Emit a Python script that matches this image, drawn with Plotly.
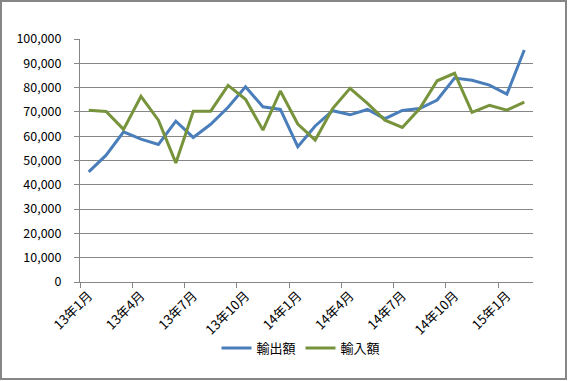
import plotly.graph_objects as go

months = [f"13年{m}月" for m in range(1, 13)] + [f"14年{m}月" for m in range(1, 13)] + ["15年1月", "15年2月"]
exports = [45300, 52200, 61800, 58800, 56600, 66200, 59500, 64900, 71900, 80300, 72100, 71000,
           55700, 64200, 70500, 68800, 71000, 67200, 70600, 71400, 74900, 83900, 83000, 81000, 77300, 95500]
imports = [70700, 70200, 62800, 76400, 66600, 49000, 70300, 70300, 80900, 75200, 62500, 78600,
           65000, 58400, 71400, 79700, 73500, 66600, 63600, 71400, 82800, 85900, 69800, 72700, 70700, 74000]
y_ticks = [0, 10000, 20000, 30000, 40000, 50000, 60000, 70000, 80000, 90000, 100000]

W, H = 568, 381
L, R, T, B = 80, 35, 39, 99
pw, ph = W - L - R, H - T - B

FONT = "Noto Sans CJK JP, Noto Sans, sans-serif"

fig = go.Figure()
fig.add_trace(go.Scatter(x=months, y=exports, name="輸出額", mode="lines",
                         line=dict(color="#4A7EBB", width=3)))
fig.add_trace(go.Scatter(x=months, y=imports, name="輸入額", mode="lines",
                         line=dict(color="#77933C", width=3)))

fig.update_layout(
    width=W, height=H,
    margin=dict(l=L, r=R, t=T, b=B, autoexpand=False),
    paper_bgcolor="white", plot_bgcolor="white",
    font=dict(family=FONT, size=12, color="#000000"),
    showlegend=True,
    legend=dict(orientation="h", x=(301 - L) / pw, xanchor="center",
                y=(H - B - 348) / ph, yanchor="middle",
                font=dict(size=13), bgcolor="rgba(0,0,0,0)"),
    xaxis=dict(type="category", tickson="boundaries", dtick=3, tickangle=-45,
               range=[-0.5, len(months) - 0.5],
               showgrid=False, showline=True, linecolor="#868686", linewidth=1,
               ticks="outside", ticklen=5, tickcolor="#868686",
               tickfont=dict(size=13), fixedrange=True, automargin=False),
    yaxis=dict(range=[0, 100000], tickvals=y_ticks, tickformat=",d",
               showgrid=True, gridcolor="#868686", gridwidth=1,
               showline=True, linecolor="#868686", linewidth=1,
               ticks="outside", ticklen=5, tickcolor="#868686",
               ticklabelstandoff=10,
               tickfont=dict(size=12.5), zeroline=False, fixedrange=True, automargin=False),
    shapes=[dict(type="rect", xref="paper", yref="paper",
                 x0=(1 - L) / pw, x1=(566 - L) / pw,
                 y0=(H - B - 379) / ph, y1=(H - B - 1) / ph,
                 line=dict(color="#868686", width=2), fillcolor="rgba(0,0,0,0)")],
)

fig.write_html("out.html", config={"displayModeBar": False},
               post_script="document.body.style.margin='0';document.body.style.overflow='hidden';")
